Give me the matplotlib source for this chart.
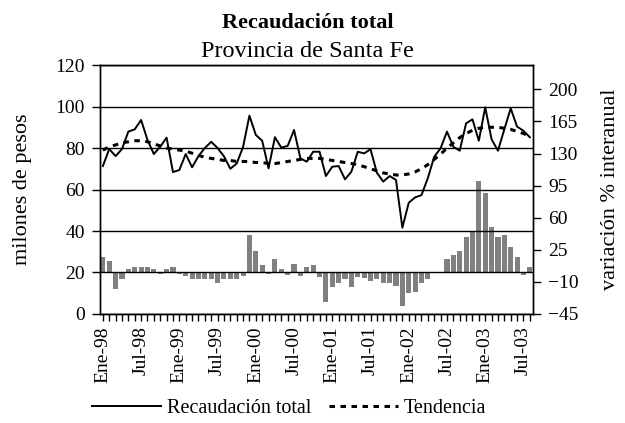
import matplotlib
matplotlib.use("Agg")
import matplotlib.pyplot as plt

plt.rcParams['font.family'] = ['Liberation Serif', 'DejaVu Serif']

# recaudacion mensual, millones de pesos (ene-98 .. ago-03)
recaudacion = [71.3, 79.5, 76.1, 79.5, 87.9, 89.0, 93.5, 83.9, 77.1, 80.6, 85.0, 68.4,
               69.4, 77.1, 70.7, 76.1, 80.0, 83.0, 80.0, 76.0, 70.0, 72.5, 80.5, 95.6,
               86.3, 83.5, 70.2, 85.2, 80.2, 81.0, 88.7, 75.0, 73.4, 78.2, 78.2, 66.5,
               71.0, 71.3, 64.9, 68.6, 78.2, 77.4, 79.4, 68.1, 63.8, 66.5, 64.6, 41.6,
               53.6, 56.2, 57.3, 65.5, 75.8, 79.9, 87.9, 80.6, 78.7, 91.9, 93.8, 83.5,
               99.6, 84.2, 78.7, 89.0, 99.1, 90.3, 88.3, 85.2]

tendencia = [79.0, 80.5, 81.5, 82.5, 83.0, 83.5, 83.5, 83.0, 82.0, 81.0, 80.0, 79.5,
             79.0, 78.5, 77.5, 76.5, 75.5, 75.0, 74.5, 74.0, 74.0, 73.5, 73.5, 73.5,
             73.0, 73.0, 72.5, 72.5, 73.0, 73.5, 74.0, 74.5, 75.0, 75.0, 75.0, 74.5,
             74.0, 73.5, 73.0, 72.5, 72.0, 71.0, 70.0, 69.0, 68.0, 67.5, 67.0, 67.0,
             67.5, 68.5, 70.0, 72.0, 74.5, 77.0, 80.0, 82.5, 85.0, 87.0, 88.5, 89.5,
             90.0, 90.0, 90.0, 89.5, 89.0, 88.0, 87.0, 85.5]

# variacion % interanual
variacion = [17.4, 13.0, -18.0, -7.2, 4.0, 5.9, 5.9, 5.9, 4.0, -1.4, 4.0, 5.9,
             -1.4, -3.6, -7.2, -7.2, -7.2, -7.2, -11.6, -7.2, -7.2, -7.2, -3.6, 41.0,
             24.0, 8.4, -1.5, 15.0, 4.0, -2.0, 10.0, -3.5, 6.0, 8.4, -5.0, -32.0,
             -16.0, -11.6, -7.2, -16.0, -5.0, -5.5, -9.0, -7.2, -11.6, -11.6, -14.5, -36.0,
             -22.0, -20.5, -11.6, -7.2, 0.5, 0.5, 15.0, 19.3, 24.0, 38.6, 44.0, 100.0,
             86.6, 49.5, 38.6, 41.0, 28.3, 16.8, -2.0, 5.9]

meses = ['Ene', 'Jul']
anios = ['98', '99', '00', '01', '02', '03']
etiquetas = [m + '-' + a for a in anios for m in meses]

x = list(range(len(recaudacion)))

fig = plt.figure(figsize=(6.25, 4.23), dpi=100)
ax = fig.add_axes([0.16, 0.2577, 0.6928, 0.5886])
ax2 = ax.twinx()

ax2.bar(x, variacion, width=0.8, color='#808080', zorder=2)
ax2.set_ylim(-45, 226.5)
ax2.set_yticks([-45, -10, 25, 60, 95, 130, 165, 200])
ax2.set_ylabel('variación % interanual', fontsize=16, labelpad=16)

ax.set_zorder(ax2.get_zorder() + 1)
ax.patch.set_visible(False)

ax.plot(x, recaudacion, color='black', lw=1.4, label='Recaudación total', zorder=3)
ax.plot(x, tendencia, color='black', lw=2.2, ls=(0, (1.8, 1.8)), label='Tendencia', zorder=3)
ax.set_ylim(0, 120)
ax.set_yticks(range(0, 121, 20))
ax.set_ylabel('milones de pesos', fontsize=16, labelpad=17)
ax.grid(axis='y', color='black', lw=1.0)
ax.set_axisbelow(True)

ax.set_xlim(-0.45, len(x) - 0.5)
ax.set_xticks(x)
ax.set_xticklabels([etiquetas[i // 6] if i % 6 == 0 else '' for i in x], rotation=90)

for a in (ax, ax2):
    a.tick_params(direction='out', length=6, width=1, labelsize=14, pad=5)
    for s in a.spines.values():
        s.set_linewidth(1.0)
ax.tick_params(axis='x', length=5, pad=4)

fig.text(0.492, 0.934, 'Recaudación total', ha='center', va='baseline',
         fontsize=16, fontweight='bold')
fig.text(0.492, 0.866, 'Provincia de Santa Fe', ha='center', va='baseline', fontsize=17.5)

fig.legend(loc='center', bbox_to_anchor=(0.463, 0.035), ncol=2, frameon=False,
           fontsize=14.5, handlelength=3.4, handletextpad=0.3, columnspacing=0.9)

fig.savefig('out.png', dpi=100)
